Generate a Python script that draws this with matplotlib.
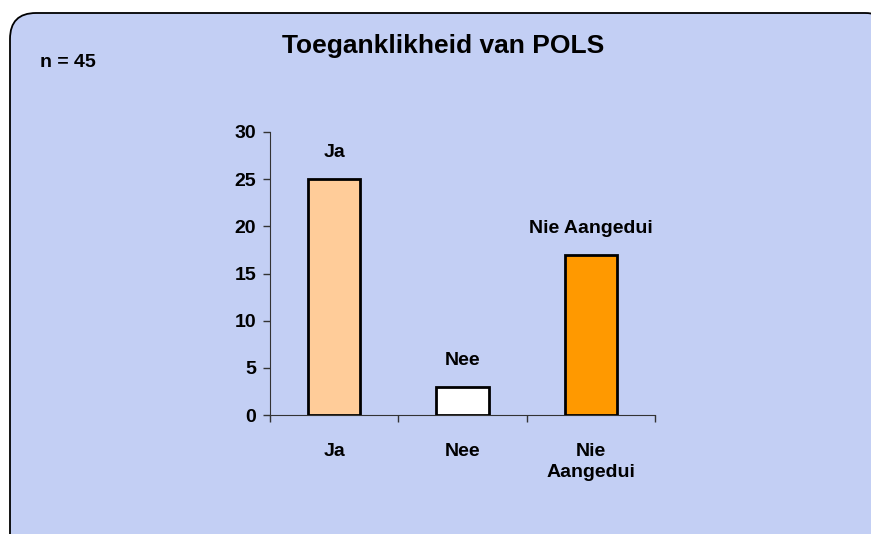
import matplotlib.pyplot as plt
from matplotlib.patches import FancyBboxPatch

plt.rcParams['font.family'] = ['Liberation Sans', 'DejaVu Sans']

categories = ['Ja', 'Nee', 'Nie\nAangedui']
bar_labels = ['Ja', 'Nee', 'Nie Aangedui']
values = [25, 3, 17]
colors = ['#FFCC99', '#FFFFFF', '#FF9900']
yticks = [0, 5, 10, 15, 20, 25, 30]

W, H = 871, 534
fig = plt.figure(figsize=(W / 100, H / 100), dpi=100)
fig.patch.set_facecolor('white')

# rounded frame with light blue background
frame = FancyBboxPatch((10, -30), W + 10, H + 30 - 13,
                       boxstyle='round,pad=0,rounding_size=26',
                       transform=None, facecolor='#C3CFF4',
                       edgecolor='black', linewidth=1.3, zorder=-5)
fig.patches.append(frame)

ax = fig.add_axes([270 / W, 1 - 415 / H, (655 - 270) / W, (415 - 132) / H])
ax.patch.set_alpha(0)

x = range(len(values))
ax.bar(x, values, width=0.41, color=colors, edgecolor='black', linewidth=2, zorder=3)
for i, v in enumerate(values):
    ax.text(i, v + 1.9, bar_labels[i], ha='center', va='bottom',
            fontsize=14, fontweight='bold')

ax.set_xlim(-0.5, 2.5)
ax.set_ylim(0, 30)
ax.set_yticks(yticks)
ax.set_xticks([-0.5, 0.5, 1.5, 2.5], minor=False)
ax.set_xticklabels([])
ax.set_xticks(list(x), minor=True)
ax.set_xticklabels(categories, minor=True, fontsize=14, fontweight='bold', linespacing=1.35)
ax.tick_params(axis='x', which='minor', length=0, pad=20)
ax.tick_params(axis='x', which='major', length=5, direction='out', width=1, color='#333333')
ax.tick_params(axis='y', length=5, direction='out', width=1, color='#333333', pad=5)
for lab in ax.get_yticklabels():
    lab.set_fontsize(14)
    lab.set_fontweight('bold')
for s in ['top', 'right']:
    ax.spines[s].set_visible(False)
ax.spines['left'].set_color('#333333')
ax.spines['bottom'].set_color('#333333')

fig.text(443 / W, 1 - 46 / H, 'Toeganklikheid van POLS', ha='center', va='center',
         fontsize=19, fontweight='bold')
fig.text(40 / W, 1 - 62 / H, 'n = 45', ha='left', va='center',
         fontsize=14, fontweight='bold')

fig.savefig('out.png', dpi=100)
